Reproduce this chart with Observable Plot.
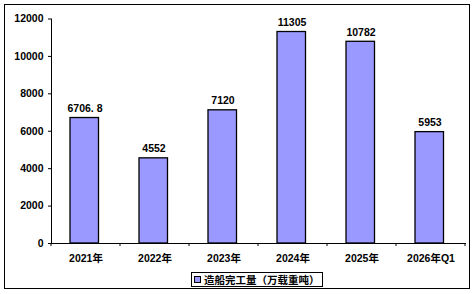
<!DOCTYPE html>
<html><head><meta charset="utf-8">
<script src="https://cdn.jsdelivr.net/npm/d3@7"></script>
<script src="https://cdn.jsdelivr.net/npm/@observablehq/plot@0.6"></script>
<style>
body{margin:0;background:#fff;}
#wrap{position:relative;width:475px;height:294px;overflow:hidden;}
#border{position:absolute;left:4px;top:4px;width:464px;height:283px;border:1.6px solid #000;}
#legend{position:absolute;left:191px;top:272px;height:13px;width:130px;border:1.3px solid #000;background:#fff;
 font:bold 10.5px "Noto Sans CJK SC","Liberation Sans",sans-serif;line-height:13px;white-space:nowrap;box-sizing:content-box;}
#legend .sw{display:inline-block;width:5px;height:5px;background:#9999FF;border:1px solid #000;margin:0 3px 0 2px;vertical-align:1px;}
svg{position:absolute;left:0;top:0;}
</style></head>
<body><div id="wrap"><div id="border"></div></div>
<script>
const categories = ["2021年","2022年","2023年","2024年","2025年","2026年Q1"];
const values = [6706.8, 4552, 7120, 11305, 10782, 5953];
const valueLabels = ["6706. 8","4552","7120","11305","10782","5953"];
const yTicks = [0, 2000, 4000, 6000, 8000, 10000, 12000];
const seriesName = "造船完工量（万载重吨）";
const barColor = "#9999FF";

const data = categories.map((c, i) => ({cat: c, value: values[i], label: valueLabels[i]}));

function boundaryTicks(index, scales, vals, dims) {
  const g = d3.create("svg:g").attr("stroke", "black").attr("stroke-width", 1);
  const x = scales.x, bw = x.bandwidth();
  const y0 = dims.height - dims.marginBottom;
  const pts = categories.map(c => x(c)).concat([x(categories[categories.length - 1]) + bw]);
  for (const p of pts) g.append("line").attr("x1", p).attr("x2", p).attr("y1", y0).attr("y2", y0 + 3);
  return g.node();
}

const chart = Plot.plot({
  width: 475, height: 294,
  marginLeft: 51, marginRight: 10, marginTop: 18.5, marginBottom: 51,
  style: {fontFamily: '"Liberation Sans","Noto Sans CJK SC",sans-serif', fontSize: "10.5px", fontWeight: "bold", color: "black", background: "transparent"},
  x: {domain: categories, padding: 0, label: null, tickSize: 0, tickPadding: 11},
  y: {domain: [0, 12000], ticks: yTicks, label: null, tickSize: 3, tickPadding: 5, tickFormat: d => String(d)},
  marks: [
    Plot.barY(data, {x: "cat", y: "value", fill: barColor, stroke: "black", strokeWidth: 1.3, insetLeft: 19, insetRight: 21.5}),
    Plot.text(data, {x: "cat", y: "value", text: "label", dx: -1, dy: -6, lineAnchor: "bottom", fontWeight: "bold"}),
    Plot.frame({anchor: "left", stroke: "black"}),
    Plot.frame({anchor: "bottom", stroke: "black"}),
    boundaryTicks
  ]
});
document.getElementById("wrap").appendChild(chart);
const lg = document.createElement("div");
lg.id = "legend";
lg.innerHTML = '<span class="sw"></span>' + seriesName;
document.getElementById("wrap").appendChild(lg);
</script></body></html>
